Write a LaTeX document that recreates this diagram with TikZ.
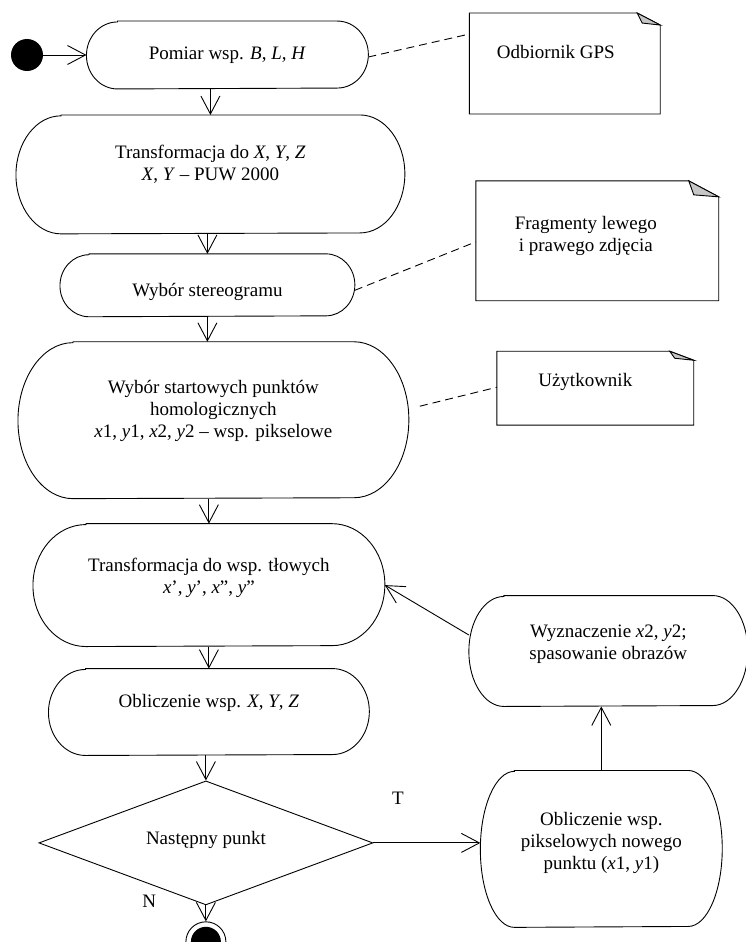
\documentclass[tikz,border=0pt]{standalone}
\usepackage{fontspec}
\setmainfont{Liberation Serif}
\usetikzlibrary{positioning,arrows.meta,shapes.geometric,calc}

% obrys akcji: wezel, promien x, promien y
\newcommand{\kapsula}[3]{%
  \draw ([xshift=#2]#1.north west) -- ([xshift=-#2]#1.north east)
    arc[start angle=90, end angle=-90, x radius=#2, y radius=#3]
    -- ([xshift=#2]#1.south west)
    arc[start angle=270, end angle=90, x radius=#2, y radius=#3] -- cycle;}
% notatka z zagietym rogiem: wezel, zagiecie x, zagiecie y
\newcommand{\notatka}[3]{%
  \draw (#1.north west) -- ([xshift=-#2]#1.north east) -- ([yshift=-#3]#1.north east)
    -- (#1.south east) -- (#1.south west) -- cycle;
  \draw[fill=gray!45] ([xshift=-#2]#1.north east) -- ([yshift=-#3]#1.north east)
    -- ([xshift=-#2+5pt, yshift=-#3+2pt]#1.north east) -- cycle;}
% dodatkowe miejsce pod tekstem
\newcommand{\nizej}[1]{\rule[-#1]{0pt}{#1}}

\begin{document}
\begin{tikzpicture}[
    x=1pt, y=1pt,
    font=\fontsize{19}{22}\selectfont,
    line width=0.9pt,
    akcja/.style = {rectangle, inner sep=0pt, align=center},
    notka/.style = {rectangle, inner sep=0pt, align=center},
    decyzja/.style = {diamond, draw, aspect=2.7, inner sep=0pt, align=center},
    poczatek/.style = {circle, fill=black, minimum size=32pt, inner sep=0pt},
    koniec/.style = {circle, draw, minimum size=40pt, inner sep=0pt},
    przerywana/.style = {dash pattern=on 8pt off 5pt},
    >={Straight Barb[length=18pt, width=19pt]}
]
\useasboundingbox (0,0) rectangle (746,-942);

% --- glowna kolumna ---
\node[poczatek] (start) at (27,-55) {};
\node[akcja, minimum width=281pt, minimum height=67pt, right=43pt of start] (pomiar)
    {Pomiar wsp. \textit{B}, \textit{L}, \textit{H}};
\node[akcja, minimum width=388pt, minimum height=118pt, below=26pt of pomiar, xshift=-17pt] (trans1)
    {Transformacja do \textit{X}, \textit{Y}, \textit{Z}\\ \textit{X}, \textit{Y} – PUW 2000\nizej{24pt}};
\node[akcja, minimum width=294pt, minimum height=62pt, below=20pt of trans1, xshift=-3pt] (wybor1)
    {\rule{0pt}{27pt}Wybór stereogramu};
\node[akcja, minimum width=390pt, minimum height=156pt, below=25pt of wybor1, xshift=6pt] (wybor2)
    {Wybór startowych punktów\\ homologicznych\\ \textit{x}1, \textit{y}1, \textit{x}2, \textit{y}2 – wsp. pikselowe\nizej{22pt}};
\node[akcja, minimum width=351pt, minimum height=122pt, below=25pt of wybor2, xshift=-4.5pt] (trans2)
    {Transformacja do wsp. tłowych\\ \textit{x}’, \textit{y}’, \textit{x}”, \textit{y}”\nizej{18pt}};
\node[akcja, minimum width=320pt, minimum height=86pt, below=22pt of trans2] (oblicz)
    {Obliczenie wsp. \textit{X}, \textit{Y}, \textit{Z}\nizej{22pt}};
\node[decyzja, minimum width=334pt, minimum height=124pt, below=25pt of oblicz, xshift=-3pt] (nastepny)
    {Następny punkt\nizej{10pt}};
\node[koniec, below=16pt of nastepny] (stop) {};
\fill (stop) circle (15pt);

% --- petla po prawej ---
\node[akcja, minimum width=241pt, minimum height=156pt, right=107pt of nastepny, yshift=-6pt] (oblpix)
    {Obliczenie wsp.\\ pikselowych nowego\\ punktu (\textit{x}1, \textit{y}1)\nizej{16pt}};
\node[akcja, minimum width=278pt, minimum height=110pt, above=64pt of oblpix, xshift=7pt] (wyzn)
    {Wyznaczenie \textit{x}2, \textit{y}2;\\ spasowanie obrazów\nizej{18pt}};

% --- notatki ---
\node[notka, minimum width=190pt, minimum height=100pt, right=101pt of pomiar, yshift=-8.5pt] (gps)
    {Odbiornik GPS\hspace*{18pt}\nizej{24pt}};
\node[notka, minimum width=242pt, minimum height=119pt, right=121pt of wybor1, yshift=44.5pt] (frag)
    {Fragmenty lewego\hspace*{23pt}\\ i prawego zdjęcia\hspace*{23pt}\nizej{14pt}};
\node[notka, minimum width=196pt, minimum height=73pt, right=88pt of wybor2, yshift=32pt] (uzytk)
    {Użytkownik\hspace*{20pt}\nizej{17pt}};

% --- obrysy ---
\kapsula{pomiar}{31pt}{33.5pt}
\kapsula{trans1}{45pt}{59pt}
\kapsula{wybor1}{29pt}{31pt}
\kapsula{wybor2}{55pt}{78pt}
\kapsula{trans2}{53pt}{61pt}
\kapsula{oblicz}{37pt}{43pt}
\kapsula{oblpix}{34pt}{78pt}
\kapsula{wyzn}{35pt}{55pt}
\notatka{gps}{23pt}{12pt}
\notatka{frag}{30pt}{16pt}
\notatka{uzytk}{24pt}{9pt}

% --- strzalki ---
\draw[->] (start) -- (pomiar);
\draw[->] (trans1.north |- pomiar.south) -- (trans1.north);
\draw[->] (wybor1.north |- trans1.south) -- (wybor1.north);
\draw[->] (wybor1.south) -- (wybor1.south |- wybor2.north);
\draw[->] (trans2.north |- wybor2.south) -- (trans2.north);
\draw[->] (trans2.south) -- (trans2.south |- oblicz.north);
\draw[->] (nastepny.north |- oblicz.south) -- (nastepny.north);
\draw[->] (nastepny.south) -- (stop);
\draw[->] (nastepny.east) -- (nastepny.east -| oblpix.west);
\draw[->] (oblpix.north) -- (oblpix.north |- wyzn.south);
\draw[->] ([yshift=16pt]wyzn.west) -- (trans2.east);

% --- polaczenia z notatkami ---
\draw[przerywana] ([yshift=-2pt]pomiar.east) -- ([yshift=-21pt]gps.north west);
\draw[przerywana] ([yshift=-5pt]wybor1.east) -- ([yshift=-61pt]frag.north west);
\draw[przerywana] ([xshift=11pt, yshift=14pt]wybor2.east) -- ([yshift=-36pt]uzytk.north west);

% --- etykiety ---
\node[above right=35pt and 15pt of nastepny.east] (tak) {T};
\node[left=46pt of nastepny.south, yshift=4pt] (nie) {N};

\end{tikzpicture}
\end{document}
